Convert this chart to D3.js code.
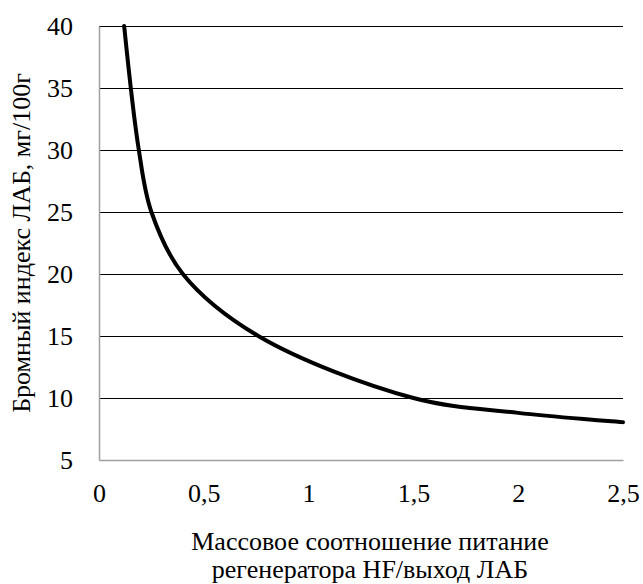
<!DOCTYPE html>
<html lang="ru">
<head>
<meta charset="UTF-8">
<title>Бромный индекс ЛАБ</title>
<style>
    body { margin: 0; background: #fff; }
    svg text { font-family: "Liberation Serif", "Times New Roman", Times, "DejaVu Serif", serif; fill: #000; }
    .tick text { font-size: 26px; }
    .axis-label { font-size: 26px; }
</style>
</head>
<body>
<svg width="643" height="584"></svg>
<script src="https://d3js.org/d3.v7.min.js"></script>
<script>
    // Values
    const ratio = [0.12, 0.19, 0.25, 0.4, 0.76, 1.5, 2.0, 2.5];
    const bromineIndex = [40, 30, 25, 20, 15, 10, 8.8, 8.05];
    const xTicks = [0, 0.5, 1, 1.5, 2, 2.5];
    const yTicks = [5, 10, 15, 20, 25, 30, 35, 40];

    const xLabelLines = ['Массовое соотношение питание', 'регенератора HF/выход ЛАБ'];
    const yLabel = 'Бромный индекс ЛАБ, мг/100г';

    const serif = '"Liberation Serif", "Times New Roman", Times, "DejaVu Serif", serif';
    const margin = { left: 99, right: 20, top: 26, bottom: 124 };

    const svg = d3.select('svg');
    const height = +svg.attr('height');
    const innerWidth = 623 - margin.left;
    const innerHeight = height - margin.top - margin.bottom;

    const xScale = d3.scaleLinear().domain([0, 2.5]).range([0, innerWidth]);
    const yScale = d3.scaleLinear().domain([5, 40]).range([innerHeight, 0]);

    const g = svg.append('g')
        .attr('transform', 'translate(' + margin.left + ',' + margin.top + ')');

    // horizontal gridlines
    g.selectAll('.grid')
        .data(yTicks.filter(function (d) { return d > 5; }))
        .enter()
        .append('line')
        .attr('class', 'grid')
        .attr('x1', 0)
        .attr('x2', innerWidth)
        .attr('y1', function (d) { return Math.round(yScale(d)) + 0.5; })
        .attr('y2', function (d) { return Math.round(yScale(d)) + 0.5; })
        .attr('stroke', '#000')
        .attr('stroke-width', 1.2);

    const yAxisG = g.append('g')
        .call(d3.axisLeft(yScale).tickValues(yTicks).tickSize(0).tickPadding(26));

    const xAxisG = g.append('g')
        .attr('transform', 'translate(0,' + innerHeight + ')')
        .call(d3.axisBottom(xScale).tickValues(xTicks).tickSize(0).tickPadding(24)
            .tickFormat(function (d) { return String(d).replace('.', ','); }));

    [xAxisG, yAxisG].forEach(function (a) {
        a.attr('font-family', serif).attr('font-size', 26);
        a.select('.domain').attr('stroke', '#a0a0a0').attr('stroke-width', 1.5);
    });

    const points = ratio.map(function (r, i) { return [r, bromineIndex[i]]; });

    const line = d3.line()
        .x(function (d) { return xScale(d[0]); })
        .y(function (d) { return yScale(d[1]); })
        .curve(d3.curveCatmullRom.alpha(0.5));

    g.append('path')
        .datum(points)
        .attr('d', line)
        .attr('fill', 'none')
        .attr('stroke', '#000')
        .attr('stroke-width', 4)
        .attr('stroke-linecap', 'round');

    // axis titles
    const xTitle = svg.append('text')
        .attr('class', 'axis-label')
        .attr('font-family', serif)
        .attr('text-anchor', 'middle')
        .attr('x', 370)
        .attr('y', 550);
    xLabelLines.forEach(function (t, i) {
        xTitle.append('tspan').attr('x', 370).attr('dy', i === 0 ? 0 : 28).text(t);
    });

    svg.append('text')
        .attr('class', 'axis-label')
        .attr('font-family', serif)
        .attr('text-anchor', 'middle')
        .attr('transform', 'translate(30,' + 243 + ') rotate(-90)')
        .text(yLabel);
</script>
</body>
</html>
